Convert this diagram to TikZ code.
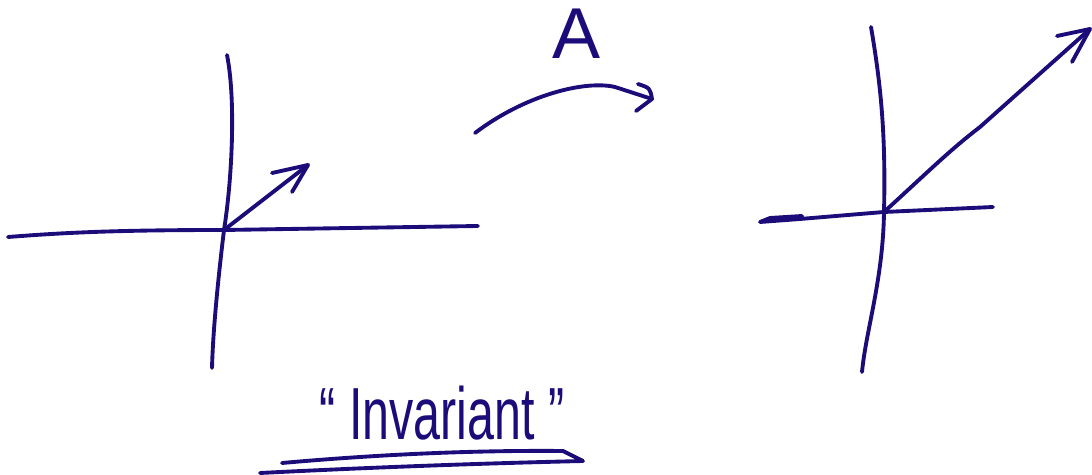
\documentclass[tikz,border=0pt]{standalone}
\usepackage{fontspec}
\setmainfont{Liberation Sans}
\definecolor{ink}{RGB}{28,12,122}
\begin{document}
\begin{tikzpicture}[x=0.02cm,y=-0.02cm,
  pen/.style={draw=ink,line width=2.2pt,line cap=round,line join=round},
  lbl/.style={text=ink,inner sep=0pt}]
\useasboundingbox (0,0) rectangle (1092,475);
% left axes
\coordinate (o1) at (224,230);
\draw[pen] (8,237) .. controls (60,233) and (110,230) .. (o1) -- (478,226);
\draw[pen] (227,55) .. controls (236,100) and (232,180) .. (o1) .. controls (218,280) and (213,330) .. (212,368);
\coordinate (v1) at (308,165);
\draw[pen] (o1) -- (v1);
\draw[pen] (272,173) -- (v1) -- (292,192);
% mapping arrow
\coordinate (a0) at (475,133);
\coordinate (a1) at (652,99);
\draw[pen] (a0) .. controls (525,95) and (585,80) .. (615,87) -- (a1);
\draw[pen] (638,84) .. controls (650,88) .. (a1) -- (636,111);
\node[lbl,font=\fontsize{41}{41}\selectfont] (A) at (577,34) {A};
% right axes
\coordinate (o2) at (884,212);
\draw[pen] (871,27) .. controls (880,80) and (886,130) .. (o2) .. controls (883,280) and (866,330) .. (862,372);
\draw[pen] (802,216) -- (770,218) -- (760,222) -- (800,219) -- (o2) -- (993,207);
\coordinate (v2) at (1090,29);
\draw[pen] (o2) .. controls (930,170) and (950,150) .. (980,127) -- (v2);
\draw[pen] (1057,36) -- (v2) -- (1072,62);
% label
\node[lbl,anchor=base] (inv) at (442,440) {\scalebox{0.95}[1.45]{\fontsize{29}{29}\selectfont “ Invariant ”}};
\draw[pen] (260,473) .. controls (400,466) and (500,463) .. (583,461) -- (563,451) .. controls (450,450) and (350,457) .. (282,463);
\end{tikzpicture}
\end{document}
